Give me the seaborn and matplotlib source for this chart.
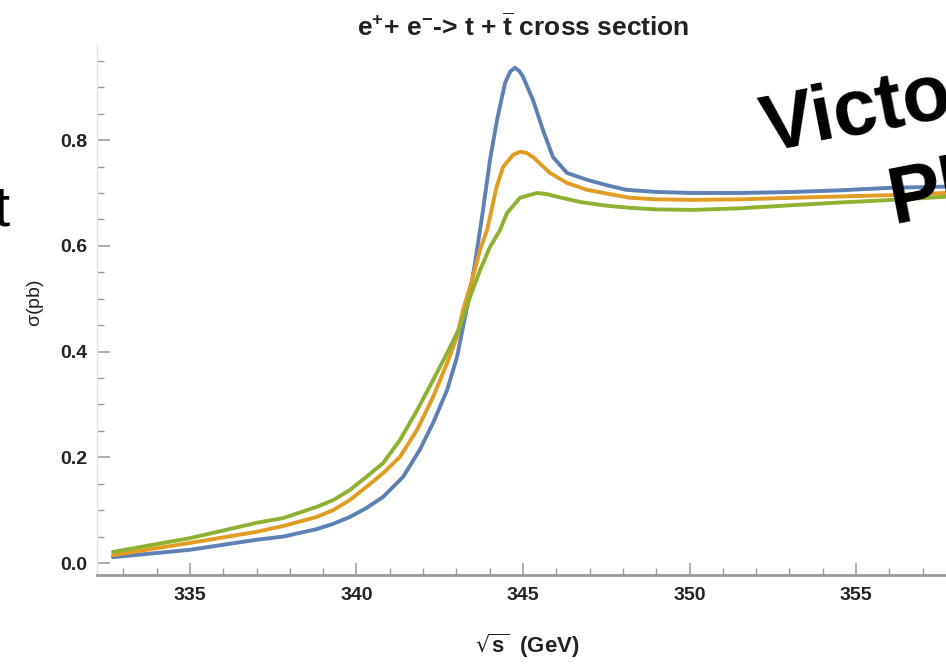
import numpy as np
import pandas as pd
import matplotlib
matplotlib.use("Agg")
import matplotlib.pyplot as plt
import seaborn as sns
from matplotlib.ticker import MultipleLocator

# values
x_blue = [332.69, 335.0, 337.0, 337.8, 338.8, 339.3, 339.8, 340.3, 340.8, 341.4,
          341.9, 342.3, 342.72, 343.02, 343.2, 343.41, 343.56, 343.71, 343.77, 344.01,
          344.22, 344.46, 344.62, 344.76, 344.9, 345.0, 345.3, 345.6, 345.9, 346.32,
          346.92, 347.5, 348.1, 349.0, 350.1, 351.5, 353.1, 354.5, 356.1, 357.7]
y_blue = [0.011, 0.025, 0.044, 0.050, 0.064, 0.074, 0.087, 0.104, 0.125, 0.163,
          0.214, 0.265, 0.327, 0.390, 0.447, 0.511, 0.568, 0.630, 0.655, 0.763,
          0.838, 0.908, 0.930, 0.937, 0.930, 0.920, 0.876, 0.819, 0.768, 0.738,
          0.725, 0.715, 0.706, 0.702, 0.700, 0.700, 0.702, 0.705, 0.710, 0.712]

x_orange = [332.69, 335.0, 337.0, 337.8, 338.8, 339.3, 339.8, 340.3, 340.8, 341.31,
            341.82, 342.3, 342.72, 343.02, 343.2, 343.47, 343.71, 343.92, 344.01, 344.2,
            344.4, 344.7, 344.91, 345.1, 345.3, 345.81, 346.32, 346.92, 348.2, 349.0,
            350.1, 351.5, 353.1, 356.1, 357.7]
y_orange = [0.015, 0.038, 0.059, 0.070, 0.087, 0.100, 0.119, 0.144, 0.170, 0.201,
            0.252, 0.314, 0.378, 0.428, 0.479, 0.535, 0.592, 0.630, 0.655, 0.710,
            0.749, 0.772, 0.778, 0.776, 0.768, 0.738, 0.719, 0.706, 0.691, 0.688,
            0.687, 0.688, 0.691, 0.696, 0.700]

x_green = [332.69, 335.0, 337.0, 337.8, 338.8, 339.3, 339.8, 340.3, 340.8, 341.31,
           341.82, 342.3, 342.72, 343.11, 343.41, 343.71, 344.01, 344.31, 344.52, 344.91,
           345.42, 345.72, 346.02, 346.71, 347.5, 348.2, 349.0, 350.1, 351.5, 353.1,
           354.5, 356.1, 357.7]
y_green = [0.021, 0.047, 0.076, 0.085, 0.106, 0.119, 0.138, 0.163, 0.189, 0.233,
           0.289, 0.346, 0.397, 0.447, 0.503, 0.554, 0.598, 0.630, 0.662, 0.691,
           0.700, 0.698, 0.693, 0.683, 0.676, 0.672, 0.669, 0.668, 0.671, 0.677,
           0.682, 0.687, 0.693]

x_ticks = [335, 340, 345, 350, 355]
y_ticks = [0.0, 0.2, 0.4, 0.6, 0.8]

df = pd.concat([
    pd.DataFrame({"sqrt_s": x_blue, "sigma": y_blue, "curve": "a"}),
    pd.DataFrame({"sqrt_s": x_orange, "sigma": y_orange, "curve": "b"}),
    pd.DataFrame({"sqrt_s": x_green, "sigma": y_green, "curve": "c"}),
])

sns.set_style("ticks")
plt.rcParams["font.family"] = ["Liberation Sans", "DejaVu Sans"]
plt.rcParams["mathtext.default"] = "regular"

fig = plt.figure(figsize=(9.46, 6.65), dpi=100)
ax = fig.add_axes([97 / 946, 90 / 665, 849 / 946, 530 / 665])

sns.lineplot(data=df, x="sqrt_s", y="sigma", hue="curve", sort=False,
             palette=["#5E81B5", "#E19C24", "#8FB131"], linewidth=2.8,
             legend=False, ax=ax)

ax.set_xlim(332.21, 357.7)
ax.set_ylim(-0.0227, 0.98)
ax.set_xticks(x_ticks)
ax.set_yticks(y_ticks)
ax.set_yticklabels([f"{v:.1f}" for v in y_ticks])
ax.xaxis.set_minor_locator(MultipleLocator(1))
ax.yaxis.set_minor_locator(MultipleLocator(0.05))
ax.set_xlabel("")
ax.set_ylabel("")

for side in ["top", "right"]:
    ax.spines[side].set_visible(False)
ax.spines["left"].set_color("#e2e2e2")
ax.spines["left"].set_linewidth(1.0)
ax.spines["bottom"].set_color("#9a9a9a")
ax.spines["bottom"].set_linewidth(2.0)

ax.tick_params(axis="both", which="major", direction="in", length=9, width=1.2,
               color="#a0a0a0", labelsize=14, labelcolor="#222222")
ax.tick_params(axis="both", which="minor", direction="in", length=5, width=1.0,
               color="#999999")
ax.tick_params(axis="x", which="major", pad=9)
ax.tick_params(axis="y", which="major", pad=7)
for lab in ax.get_xticklabels() + ax.get_yticklabels():
    lab.set_fontweight("bold")

fig.text(523 / 946, 1 - 27 / 665, r"e$^{+}$+ e$^{-}$-> t + $\overline{t}$ cross section",
         ha="center", va="center", fontsize=19, fontweight="bold", color="#222222")
fig.text(527 / 946, 1 - 646 / 665, r"$\sqrt{s}$  (GeV)", ha="center", va="center",
         fontsize=16, fontweight="bold", color="#222222")
fig.text(35 / 946, 1 - 303 / 665, r"$\sigma$(pb)", ha="center", va="center",
         rotation=90, fontsize=14, color="#222222")

# slide text overlapping the chart
fig.text(766 / 946, 1 - 152 / 665, "Victo", ha="left", va="baseline",
         rotation=11, rotation_mode="anchor", fontsize=57, fontweight="bold",
         color="black")
fig.text(894 / 946, 1 - 223 / 665, "Pl", ha="left", va="baseline",
         rotation=11, rotation_mode="anchor", fontsize=57, fontweight="bold",
         color="black")
fig.text(9 / 946, 1 - 225 / 665, "t", ha="right", va="baseline",
         fontsize=42, color="black")

fig.savefig("out.png", dpi=100)
